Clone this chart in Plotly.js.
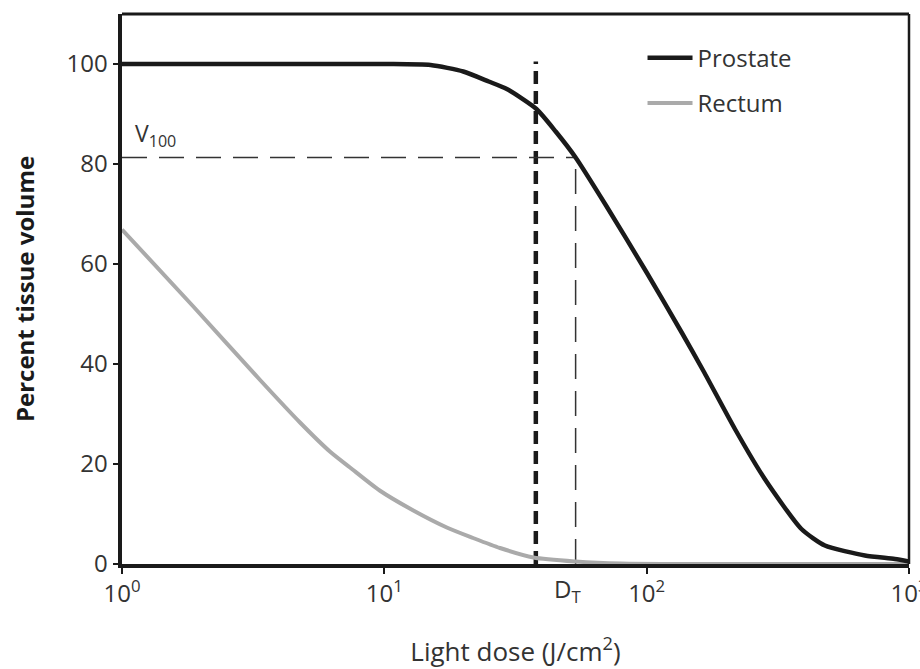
<!DOCTYPE html>
<html>
<head>
<meta charset="utf-8">
<script src="https://cdn.plot.ly/plotly-3.0.1.min.js"></script>
<style>html,body{margin:0;padding:0;background:#fff;}#chart{width:920px;height:669px;}</style>
</head>
<body>
<div id="chart"></div>
<script>
// Prostate dose-volume curve (light dose J/cm^2, percent volume)
const prostateDose = [1, 10, 15, 20, 25, 29.3, 38, 45, 53.6, 70, 100, 136, 165, 217, 282, 389, 478, 679, 883, 1000];
const prostateVol  = [100, 100, 99.8, 98.5, 96.5, 95, 91, 86.5, 81.3, 71.7, 58.3, 46.3, 38.5, 27, 17, 7, 3.7, 1.7, 1, 0.5];
// Rectum dose-volume curve
const rectumDose = [1, 1.87, 3.36, 4.77, 6.2, 7.4, 9.6, 12.9, 17.3, 21.8, 27.6, 37, 53.6, 80, 1000];
const rectumVol  = [66.9, 51.5, 36.8, 28.3, 22.5, 19.3, 14.7, 10.7, 7.3, 5.2, 3.2, 1.3, 0.5, 0.1, 0];
// Reference markers
const thresholdDose = 37.8, thresholdTop = 100.5;
const dT = 53.6, v100 = 81.3;
const xTickVals = [1, 10, 100, 1000];
const xTickText = ['10<sup>0</sup>', '10<sup>1</sup>', '10<sup>2</sup>', '10<sup>3</sup>'];
const yTickVals = [0, 20, 40, 60, 80, 100];

const font = {family: 'Open Sans, sans-serif', size: 24, color: '#333'};

const traces = [
  {x: [thresholdDose, thresholdDose], y: [0, thresholdTop], mode: 'lines', showlegend: false, hoverinfo: 'skip',
   line: {color: '#1a1a1a', width: 4.5, dash: '13px,7px'}},
  {x: [1, dT], y: [v100, v100], mode: 'lines', showlegend: false, hoverinfo: 'skip',
   line: {color: '#333', width: 1.5, dash: '25px,12px'}},
  {x: [dT, dT], y: [0, v100], mode: 'lines', showlegend: false, hoverinfo: 'skip',
   line: {color: '#333', width: 1.5, dash: '25px,12px'}},
  {x: rectumDose, y: rectumVol, name: 'Rectum', mode: 'lines', legendgroup: 'r', legendrank: 2,
   line: {color: '#aaaaaa', width: 4, shape: 'spline', smoothing: 0.7}, cliponaxis: false},
  {x: prostateDose, y: prostateVol, name: 'Prostate', mode: 'lines', legendgroup: 'p', legendrank: 1,
   line: {color: '#1a1a1a', width: 4.5, shape: 'spline', smoothing: 0.6}, cliponaxis: false}
];

const layout = {
  width: 920, height: 669,
  margin: {l: 122, r: 11, t: 14, b: 105},
  paper_bgcolor: '#fff', plot_bgcolor: '#fff',
  font: font,
  showlegend: true,
  legend: {x: 0.6614, y: 0.9606, xanchor: 'left', yanchor: 'top', font: {family: 'Open Sans, sans-serif', size: 24, color: '#333'},
           tracegroupgap: 11, itemwidth: 45, bgcolor: 'rgba(0,0,0,0)'},
  xaxis: {type: 'log', range: [0, 3], tickvals: xTickVals, ticktext: xTickText, showgrid: false, zeroline: false,
          showline: true, linecolor: '#1a1a1a', linewidth: 3.5, ticks: 'outside', ticklen: 6, tickwidth: 2, tickcolor: '#1a1a1a',
          tickfont: font, layer: 'below traces', ticklabeloverflow: 'allow',
          title: {text: 'Light dose (J/cm<sup>2</sup>)', font: {family: 'Open Sans, sans-serif', size: 26, color: '#333'}, standoff: 37}},
  yaxis: {range: [0, 110], tickvals: yTickVals, showgrid: false, zeroline: false,
          showline: true, linecolor: '#1a1a1a', linewidth: 4.5, ticks: 'outside', ticklen: 5, tickwidth: 2, tickcolor: '#1a1a1a',
          tickfont: font, ticklabeloverflow: 'allow',
          title: {text: '<b>Percent tissue volume</b>', font: {family: 'Open Sans, sans-serif', size: 24, color: '#1a1a1a'}, standoff: 26}},
  shapes: [
    {type: 'line', xref: 'paper', yref: 'paper', x0: 0, x1: 1, y0: 1, y1: 1, line: {color: '#1a1a1a', width: 3}},
    {type: 'line', xref: 'paper', yref: 'paper', x0: 1, x1: 1, y0: 0, y1: 1, line: {color: '#1a1a1a', width: 2.5}}
  ],
  annotations: [
    {x: Math.log10(1.1), y: v100, xref: 'x', yref: 'y', text: 'V<sub>100</sub>', showarrow: false, xanchor: 'left', yanchor: 'bottom',
     yshift: 4, font: {family: 'Open Sans, sans-serif', size: 23, color: '#333'}},
    {x: Math.log10(dT), y: 0, xref: 'x', yref: 'y', text: 'D<sub>T</sub>', showarrow: false, xanchor: 'center', yanchor: 'top', yshift: -6, xshift: -8,
     font: font}
  ]
};

Plotly.newPlot('chart', traces, layout, {displayModeBar: false, staticPlot: true});
</script>
</body>
</html>
